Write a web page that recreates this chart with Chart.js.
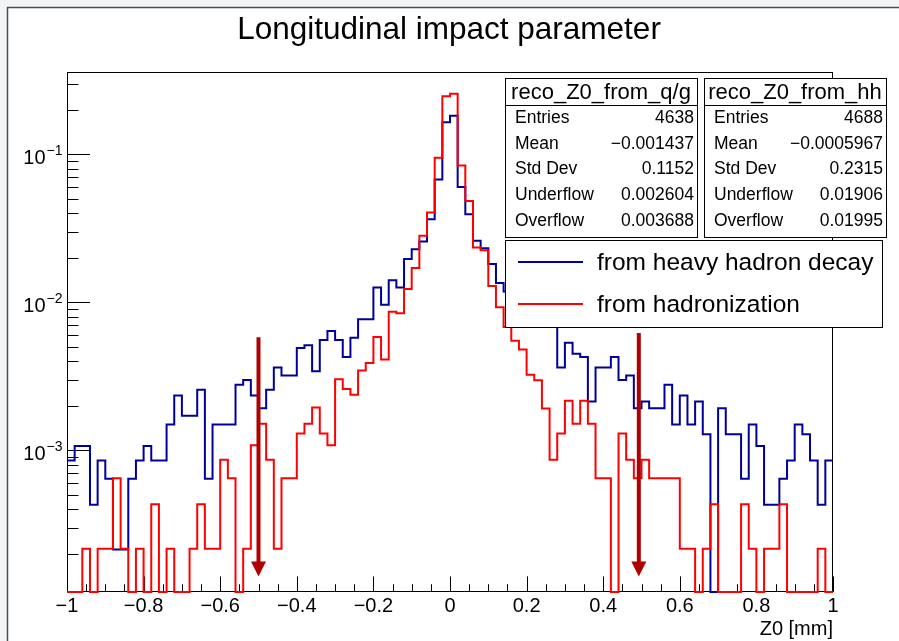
<!DOCTYPE html>
<html>
<head>
<meta charset="utf-8">
<script src="https://cdn.jsdelivr.net/npm/chart.js@4.4.1/dist/chart.umd.min.js"></script>
<style>
  html, body { margin: 0; padding: 0; background: #f3f4f6; }
  #z0Chart { position: absolute; left: 0; top: 0; }
</style>
</head>
<body>
<canvas id="z0Chart" width="899" height="641"></canvas>
<script>
// binning of both histograms
const X_MIN = -1, X_MAX = 1, N_BINS = 100;
const Y_MIN = 1.1e-4, Y_MAX = 0.36;

// reco_Z0_from_hh, normalised bin contents (0 = empty bin)
const hhValues = [
  0.000853, 0.001067, 0.001067, 0.000427, 0.000853, 0.000640, 0.000213, 0.000213, 0.000640, 0.000853,
  0.001067, 0.000853, 0.000853, 0.001493, 0.002346, 0.001706, 0.001706, 0.002560, 0.000640, 0.001493,
  0.001493, 0.001493, 0.002773, 0.002986, 0.002346, 0.001920, 0.002560, 0.003626, 0.003200, 0.003200,
  0.004906, 0.005119, 0.003413, 0.005546, 0.006399, 0.005546, 0.004266, 0.005759, 0.007679, 0.007679,
  0.01259, 0.00960, 0.01408, 0.01259, 0.01963, 0.02282, 0.0257, 0.0364, 0.0676, 0.165,
  0.182, 0.0601, 0.0394, 0.0260, 0.0232, 0.0181, 0.0135, 0.0118, 0.0105, 0.0094,
  0.0086, 0.0080, 0.0076, 0.0074, 0.003626, 0.005333, 0.004480, 0.004266, 0.002133, 0.003626,
  0.003626, 0.004266, 0.002986, 0.003200, 0.001920, 0.002133, 0.001920, 0.001920, 0.002773, 0.001493,
  0.002346, 0.001493, 0.002133, 0.001280, 0, 0.001920, 0.001280, 0.001280, 0.000640, 0.001493,
  0.001067, 0.000427, 0.000427, 0.000640, 0.000853, 0.001493, 0.001280, 0.000853, 0.000427, 0.000853
];

// reco_Z0_from_q/g, normalised bin contents (0 = empty bin)
const qgValues = [
  0, 0, 0.000216, 0, 0.000216, 0.000216, 0.000647, 0.000216, 0, 0.000216,
  0, 0.000431, 0, 0.000216, 0, 0, 0.000216, 0.000431, 0.000216, 0.000216,
  0.000862, 0.000647, 0, 0.000216, 0.001078, 0.001509, 0.000862, 0.000216, 0.000647, 0.000647,
  0.001294, 0.001509, 0.001941, 0.001294, 0.001078, 0.003019, 0.002587, 0.002372, 0.003450, 0.003881,
  0.005821, 0.004097, 0.008624, 0.008409, 0.01229, 0.01703, 0.0281, 0.0404, 0.0946, 0.2466,
  0.2567, 0.0841, 0.0484, 0.0234, 0.0225, 0.0129, 0.00925, 0.0068, 0.0055, 0.0048,
  0.00324, 0.00297, 0.00191, 0.000862, 0.001294, 0.002156, 0.001509, 0.002156, 0.001509, 0.000647,
  0.000647, 0, 0.001294, 0.000862, 0.000647, 0.000862, 0.000647, 0.000647, 0.000647, 0.000647,
  0.000216, 0.000216, 0, 0.000216, 0.000431, 0, 0, 0, 0.000431, 0.000216,
  0, 0.000216, 0.000216, 0.000431, 0, 0, 0, 0, 0.000216, 0
];

const xTickValues = [-1, -0.8, -0.6, -0.4, -0.2, 0, 0.2, 0.4, 0.6, 0.8, 1];
const xTickLabels = ['\u22121', '\u22120.8', '\u22120.6', '\u22120.4', '\u22120.2', '0', '0.2', '0.4', '0.6', '0.8', '1'];
const X_MINOR_STEP = 0.05, X_MAJOR_EVERY = 4;
const yTickExponents = [-1, -2, -3];

// cut arrows
const arrowX = [-0.5, 0.493];
const arrowTop = [0.0058, 0.0062];
const arrowTip = 1.4e-4;

const statsQG = [['Entries', '4638'], ['Mean', '\u22120.001437'], ['Std Dev', '0.1152'], ['Underflow', '0.002604'], ['Overflow', '0.003688']];
const statsHH = [['Entries', '4688'], ['Mean', '\u22120.0005967'], ['Std Dev', '0.2315'], ['Underflow', '0.01906'], ['Overflow', '0.01995']];

const RED = '#ff0000', BLUE = '#000099', ARROW = '#b00000';
const FONT = '"Liberation Sans", Arial, Helvetica, sans-serif';

const binEdges = Array.from({length: N_BINS + 1}, (_, i) => X_MIN + i * (X_MAX - X_MIN) / N_BINS);

// step outline: one point per left bin edge plus the closing right edge, empty bins sit on the axis
const histPoints = (values) => {
    const pts = values.map((v, i) => ({x: binEdges[i], y: Math.max(v, Y_MIN)}));
    pts.push({x: X_MAX, y: Math.max(values[values.length - 1], Y_MIN)});
    return pts;
}

const statsBox = (ctx, x, y, w, title, rows) => {
    const titleH = 27, rowH = 25.8, h = titleH + rows.length * rowH + 3;
    ctx.fillStyle = '#fff';
    ctx.fillRect(x, y, w, h);
    ctx.strokeStyle = '#000';
    ctx.lineWidth = 1;
    ctx.strokeRect(x + 0.5, y + 0.5, w, h);
    ctx.beginPath();
    ctx.moveTo(x, y + titleH + 0.5);
    ctx.lineTo(x + w, y + titleH + 0.5);
    ctx.stroke();
    ctx.fillStyle = '#000';
    ctx.textBaseline = 'middle';
    ctx.font = '22px ' + FONT;
    ctx.textAlign = 'center';
    ctx.fillText(title, x + w / 2, y + titleH / 2 + 1);
    ctx.font = '17.5px ' + FONT;
    rows.forEach(([label, value], i) => {
        const cy = y + titleH + rowH * (i + 0.5);
        ctx.textAlign = 'left';
        ctx.fillText(label, x + 10, cy);
        ctx.textAlign = 'right';
        ctx.fillText(value, x + w - 3, cy);
    });
}

const rootLook = {
    id: 'rootLook',
    beforeDraw(chart) {
        const {ctx, width, height} = chart;
        ctx.save();
        ctx.fillStyle = '#f3f4f6';
        ctx.fillRect(0, 0, width, height);
        ctx.fillStyle = '#fff';
        ctx.fillRect(7, 7, width - 7, height - 7);
        ctx.strokeStyle = '#4a4d55';
        ctx.lineWidth = 1.5;
        ctx.beginPath();
        ctx.moveTo(7.5, height);
        ctx.lineTo(7.5, 7.5);
        ctx.lineTo(width, 7.5);
        ctx.stroke();

        ctx.fillStyle = '#000';
        ctx.font = '31.5px ' + FONT;
        ctx.textAlign = 'center';
        ctx.textBaseline = 'alphabetic';
        ctx.fillText('Longitudinal impact parameter', 449, 39);
        ctx.restore();
    },
    beforeDatasetsDraw(chart) {
        const {ctx} = chart;
        const {left, right, top, bottom} = chart.chartArea;
        const xs = chart.scales.x, ys = chart.scales.y;
        ctx.save();
        ctx.strokeStyle = '#000';
        ctx.lineWidth = 1;
        ctx.strokeRect(left + 0.5, top + 0.5, right - left - 1, bottom - top - 1);

        ctx.beginPath();
        const nMinor = Math.round((X_MAX - X_MIN) / X_MINOR_STEP);
        for (let i = 0; i <= nMinor; i++) {
            const px = Math.round(xs.getPixelForValue(X_MIN + i * X_MINOR_STEP)) + 0.5;
            const len = i % X_MAJOR_EVERY === 0 ? 15.6 : 7.8;
            ctx.moveTo(px, bottom);
            ctx.lineTo(px, bottom - len);
        }
        for (let e = -4; e <= 0; e++) {
            for (let m = 1; m <= 9; m++) {
                const v = m * Math.pow(10, e);
                if (v < Y_MIN || v > Y_MAX) continue;
                const py = Math.round(ys.getPixelForValue(v)) + 0.5;
                ctx.moveTo(left, py);
                ctx.lineTo(left + (m === 1 ? 23 : 11.5), py);
            }
        }
        ctx.stroke();

        ctx.fillStyle = '#000';
        ctx.font = '20px ' + FONT;
        ctx.textAlign = 'center';
        ctx.textBaseline = 'alphabetic';
        xTickValues.forEach((v, i) => {
            ctx.fillText(xTickLabels[i], xs.getPixelForValue(v), bottom + 20);
        });
        ctx.textAlign = 'right';
        ctx.fillText('Z0 [mm]', right, bottom + 43);

        yTickExponents.forEach((e) => {
            const py = ys.getPixelForValue(Math.pow(10, e));
            ctx.font = '20px ' + FONT;
            ctx.textAlign = 'right';
            ctx.fillText('10', 45.5, py + 10);
            ctx.font = '14px ' + FONT;
            ctx.textAlign = 'left';
            ctx.fillText('\u2212' + Math.abs(e), 46.5, py + 1);
        });
        ctx.restore();
    },
    afterDatasetsDraw(chart) {
        const {ctx} = chart;
        const xs = chart.scales.x, ys = chart.scales.y;
        ctx.save();
        ctx.strokeStyle = ARROW;
        ctx.fillStyle = ARROW;
        arrowX.forEach((ax, i) => {
            const px = xs.getPixelForValue(ax);
            const pyTop = ys.getPixelForValue(arrowTop[i]);
            const pyTip = ys.getPixelForValue(arrowTip);
            ctx.lineWidth = 4;
            ctx.beginPath();
            ctx.moveTo(px, pyTop);
            ctx.lineTo(px, pyTip - 12);
            ctx.stroke();
            ctx.beginPath();
            ctx.moveTo(px - 7.5, pyTip - 15);
            ctx.lineTo(px + 7.5, pyTip - 15);
            ctx.lineTo(px, pyTip);
            ctx.closePath();
            ctx.fill();
        });

        statsBox(ctx, 505, 78, 192, 'reco_Z0_from_q/g', statsQG);
        statsBox(ctx, 704, 78, 182, 'reco_Z0_from_hh', statsHH);

        // legend
        const lx = 505, ly = 240, lw = 377, lh = 87;
        ctx.fillStyle = '#fff';
        ctx.fillRect(lx, ly, lw, lh);
        ctx.strokeStyle = '#000';
        ctx.lineWidth = 1;
        ctx.strokeRect(lx + 0.5, ly + 0.5, lw, lh);
        const entries = chart.data.datasets.slice().reverse();
        entries.forEach((ds, i) => {
            const cy = ly + 22 + i * 42;
            ctx.strokeStyle = ds.borderColor;
            ctx.lineWidth = 2;
            ctx.beginPath();
            ctx.moveTo(518, cy);
            ctx.lineTo(583, cy);
            ctx.stroke();
            ctx.fillStyle = '#000';
            ctx.font = '24.5px ' + FONT;
            ctx.textAlign = 'left';
            ctx.textBaseline = 'middle';
            ctx.fillText(ds.label, 597, cy + 1);
        });
        ctx.restore();
    }
};

const z0Chart = document.getElementById('z0Chart');
new Chart(z0Chart, {
    type: 'line',
    data: {
        datasets: [{
            label: 'from hadronization',
            data: histPoints(qgValues),
            borderColor: RED,
        }, {
            label: 'from heavy hadron decay',
            data: histPoints(hhValues),
            borderColor: BLUE,
        }]
    },
    options: {
        responsive: false,
        devicePixelRatio: 1,
        animation: false,
        layout: {padding: {left: 67, top: 72, right: 66, bottom: 49}},
        datasets: {
            line: {
                stepped: 'before',
                borderWidth: 2,
                pointRadius: 0,
                fill: false,
                tension: 0,
                clip: 3
            }
        },
        scales: {
            x: {type: 'linear', min: X_MIN, max: X_MAX, display: false},
            y: {type: 'logarithmic', min: Y_MIN, max: Y_MAX, display: false}
        },
        plugins: {
            legend: {display: false},
            title: {display: false},
            tooltip: {enabled: false}
        }
    },
    plugins: [rootLook]
});
</script>
</body>
</html>
